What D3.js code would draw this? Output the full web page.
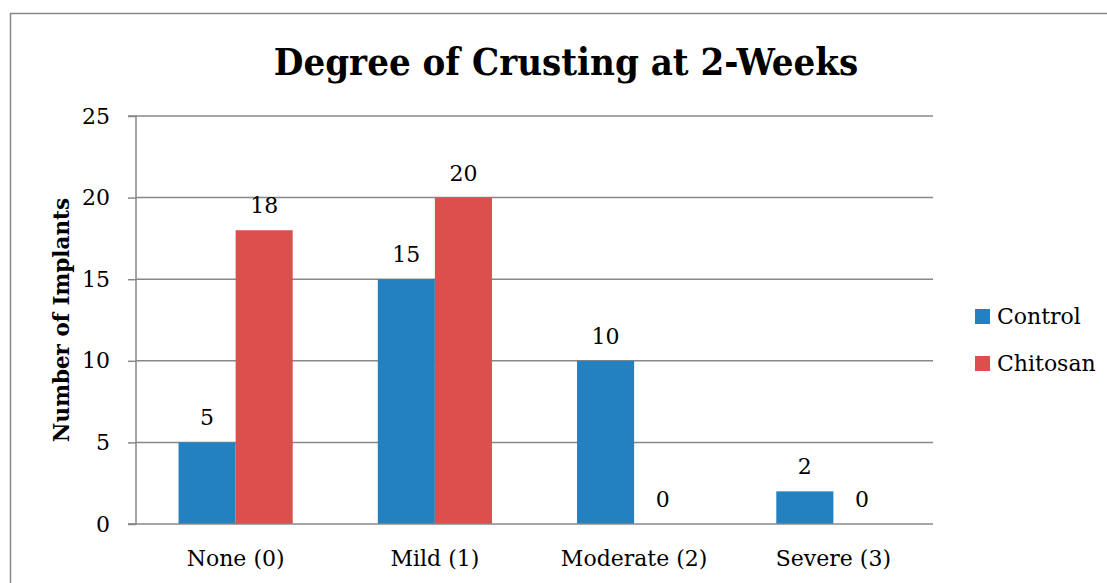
<!DOCTYPE html>
<html><head><meta charset="utf-8">
<script src="https://cdn.jsdelivr.net/npm/d3@7"></script>
<style>html,body{margin:0;padding:0;background:#fff;} svg{display:block;}</style>
</head><body>
<script>
const categories = ["None (0)", "Mild (1)", "Moderate (2)", "Severe (3)"];
const seriesNames = ["Control", "Chitosan"];
const controlValues = [5, 15, 10, 2];
const chitosanValues = [18, 20, 0, 0];
const yTicks = [0, 5, 10, 15, 20, 25];
const colors = ["#2481C1", "#DC4F4D"];
const titleText = "Degree of Crusting at 2-Weeks";
const yTitle = "Number of Implants";

const W = 1107, H = 583;
const FONT = "'DejaVu Serif',serif";
const TFONT = "'DejaVu Serif Condensed','DejaVu Serif',serif";
const svg = d3.select("body").append("svg").attr("width", W).attr("height", H);

svg.append("rect").attr("x", 10.5).attr("y", 13.5).attr("width", 1120).attr("height", 620)
  .attr("fill", "#fff").attr("stroke", "#888").attr("stroke-width", 1.5);

const plot = {left: 136, right: 933, top: 116, bottom: 524};
const x = d3.scaleBand().domain(categories).range([plot.left, plot.right]).paddingInner(0.427).paddingOuter(0.2135);
const xs = d3.scaleBand().domain(seriesNames).range([0, x.bandwidth()]);
const y = d3.scaleLinear().domain([0, 25]).range([plot.bottom, plot.top]);

// gridlines
svg.append("g").selectAll("line").data(yTicks.filter(t => t > 0)).join("line")
  .attr("x1", plot.left).attr("x2", plot.right)
  .attr("y1", d => y(d)).attr("y2", d => y(d))
  .attr("stroke", "#888").attr("stroke-width", 1.5);

const data = categories.map((c, i) => ({cat: c, vals: [controlValues[i], chitosanValues[i]]}));

const groups = svg.append("g").selectAll("g").data(data).join("g")
  .attr("transform", d => `translate(${x(d.cat)},0)`);
groups.selectAll("rect").data(d => d.vals.map((v, j) => ({v, s: seriesNames[j], j}))).join("rect")
  .attr("x", d => xs(d.s)).attr("width", xs.bandwidth())
  .attr("y", d => y(d.v)).attr("height", d => y(0) - y(d.v))
  .attr("fill", d => colors[d.j]);
groups.selectAll("text").data(d => d.vals.map((v, j) => ({v, s: seriesNames[j], j}))).join("text")
  .attr("x", d => xs(d.s) + xs.bandwidth() / 2).attr("y", d => y(d.v) - 17)
  .attr("text-anchor", "middle").attr("font-family", FONT).attr("font-size", 22)
  .attr("fill", "#000").text(d => d.v);

// y axis
const yAxis = d3.axisLeft(y).tickValues(yTicks).tickSize(8).tickPadding(18).tickFormat(d3.format("d"));
const ya = svg.append("g").attr("transform", `translate(${plot.left},0)`).call(yAxis);
ya.select(".domain").attr("stroke", "#888").attr("stroke-width", 1.5).attr("d", `M-8,${plot.top}H0V${plot.bottom}H-8`);
ya.selectAll(".tick line").attr("stroke", "#888").attr("stroke-width", 1.5);
ya.selectAll(".tick text").attr("font-family", FONT).attr("font-size", 22).attr("fill", "#000");

// x axis
const xAxis = d3.axisBottom(x).tickSize(0).tickPadding(26);
const xa = svg.append("g").attr("transform", `translate(0,${plot.bottom})`).call(xAxis);
xa.select(".domain").attr("stroke", "#888").attr("stroke-width", 1.5).attr("d", `M${plot.left - 8},0H${plot.right}`);
xa.selectAll(".tick text").attr("font-family", FONT).attr("font-size", 22).attr("fill", "#000");

// title
svg.append("text").attr("x", 566).attr("y", 75).attr("text-anchor", "middle")
  .attr("font-family", TFONT).attr("font-weight", "bold").attr("font-size", 38).attr("fill", "#000").text(titleText);

// y title
svg.append("text").attr("transform", "translate(69,320) rotate(-90)").attr("text-anchor", "middle")
  .attr("font-family", FONT).attr("font-weight", "bold").attr("font-size", 21.5).attr("fill", "#000").text(yTitle);

// legend
const lg = svg.append("g").selectAll("g").data(seriesNames).join("g")
  .attr("transform", (d, i) => `translate(975,${309 + i * 47})`);
lg.append("rect").attr("width", 15).attr("height", 15).attr("fill", (d, i) => colors[i]);
lg.append("text").attr("x", 22).attr("y", 15).attr("font-family", FONT).attr("font-size", 22).attr("fill", "#000").text(d => d);
</script>
</body></html>
